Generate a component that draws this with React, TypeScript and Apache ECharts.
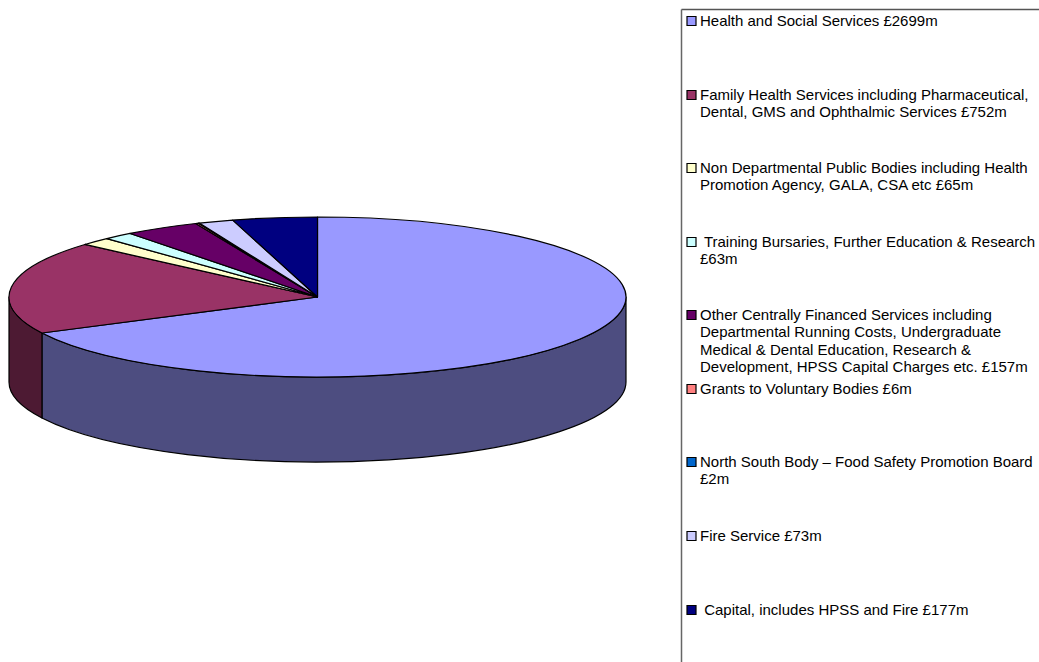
import React, { useEffect, useRef } from "react";
import * as echarts from "echarts";

// Budget allocation in £ million, one entry per slice, clockwise from 12 o'clock.
const sliceValues = [2699, 752, 65, 63, 157, 6, 2, 73, 177];
const sliceColors = ["#9999FF", "#993366", "#FFFFCC", "#CCFFFF", "#660066", "#FF8080", "#0066CC", "#CCCCFF", "#000080"];
const sideColors = ["#4D4D80", "#4D1A33", "#808066", "#668080", "#330033", "#804040", "#003366", "#666680", "#000040"];
const legendLabels = [
  "Health and Social Services £2699m",
  "Family Health Services including Pharmaceutical,\nDental, GMS and Ophthalmic Services £752m",
  "Non Departmental Public Bodies including Health\nPromotion Agency, GALA, CSA etc £65m",
  " Training Bursaries, Further Education & Research\n£63m",
  "Other Centrally Financed Services including\nDepartmental Running Costs, Undergraduate\nMedical & Dental Education, Research &\nDevelopment, HPSS Capital Charges etc. £157m",
  "Grants to Voluntary Bodies £6m",
  "North South Body – Food Safety Promotion Board\n£2m",
  "Fire Service £73m",
  " Capital, includes HPSS and Fire £177m",
];
const legendRowY = [21, 95, 168, 242, 315, 389, 462, 536, 610];

// Disc geometry.
const CX = 317.5;
const CY = 297;
const RX = 308.5;
const RY = 80;
const DEPTH = 85;
const TAU = Math.PI * 2;
const total = sliceValues.reduce((a, b) => a + b, 0);

const px = (t: number) => CX + RX * Math.sin(t);
const py = (t: number) => CY - RY * Math.cos(t);

function arcTo(t0: number, t1: number, dy = 0, reverse = false) {
  const end = reverse ? t0 : t1;
  const large = t1 - t0 > Math.PI ? 1 : 0;
  return `A ${RX} ${RY} 0 ${large} ${reverse ? 0 : 1} ${px(end)} ${py(end) + dy}`;
}

function topPath(t0: number, t1: number) {
  return `M ${CX} ${CY} L ${px(t0)} ${py(t0)} ${arcTo(t0, t1)} Z`;
}

// Outer wall of a slice; only the part facing the viewer (90deg..270deg) exists.
function sidePath(t0: number, t1: number) {
  const a = Math.max(t0, Math.PI / 2);
  const b = Math.min(t1, (Math.PI * 3) / 2);
  if (b <= a) return null;
  return `M ${px(a)} ${py(a)} ${arcTo(a, b)} L ${px(b)} ${py(b) + DEPTH} ${arcTo(a, b, DEPTH, true)} Z`;
}

function renderSlice(params: any, api: any) {
  const i = params.dataIndex;
  const before = sliceValues.slice(0, i).reduce((a, b) => a + b, 0);
  const t0 = (before / total) * TAU;
  const t1 = t0 + (api.value(0) / total) * TAU;
  const line = { stroke: "#000", lineWidth: 1.2, lineJoin: "round" };
  const children: any[] = [];
  const side = sidePath(t0, t1);
  if (side) {
    children.push({ type: "path", shape: { pathData: side }, style: { fill: sideColors[i], ...line } });
  }
  children.push({ type: "path", shape: { pathData: topPath(t0, t1) }, style: { fill: sliceColors[i], ...line } });
  return { type: "group", children };
}

export default function App() {
  const ref = useRef<HTMLDivElement>(null);
  useEffect(() => {
    const chart = echarts.init(ref.current!, null, { renderer: "svg" });
    const legendItems: any[] = [];
    legendLabels.forEach((label, i) => {
      legendItems.push({
        type: "rect",
        shape: { x: 687, y: legendRowY[i] - 4.5, width: 9, height: 9 },
        style: { fill: sliceColors[i], stroke: "#000", lineWidth: 1.2 },
      });
      legendItems.push({
        type: "text",
        x: 700,
        y: legendRowY[i] - 9,
        style: {
          text: label,
          fill: "#000",
          font: '15px "Liberation Sans", Arial, sans-serif',
          lineHeight: 17.3,
          verticalAlign: "top",
        },
      });
    });
    chart.setOption({
      animation: false,
      backgroundColor: "#fff",
      graphic: {
        elements: [
          { type: "line", shape: { x1: 681.5, y1: 9.5, x2: 1039, y2: 9.5 }, style: { stroke: "#555", lineWidth: 1.3 } },
          { type: "line", shape: { x1: 681.5, y1: 9.5, x2: 681.5, y2: 662 }, style: { stroke: "#666", lineWidth: 1.5 } },
          ...legendItems,
        ],
      },
      series: [
        {
          type: "custom",
          coordinateSystem: "none",
          renderItem: renderSlice,
          data: sliceValues.map((v) => [v]),
          silent: true,
        },
      ],
    });
    return () => chart.dispose();
  }, []);
  return (
    <div
      ref={ref}
      style={{ position: "fixed", left: 0, top: 0, width: 1039, height: 662, background: "#fff" }}
    />
  );
}
